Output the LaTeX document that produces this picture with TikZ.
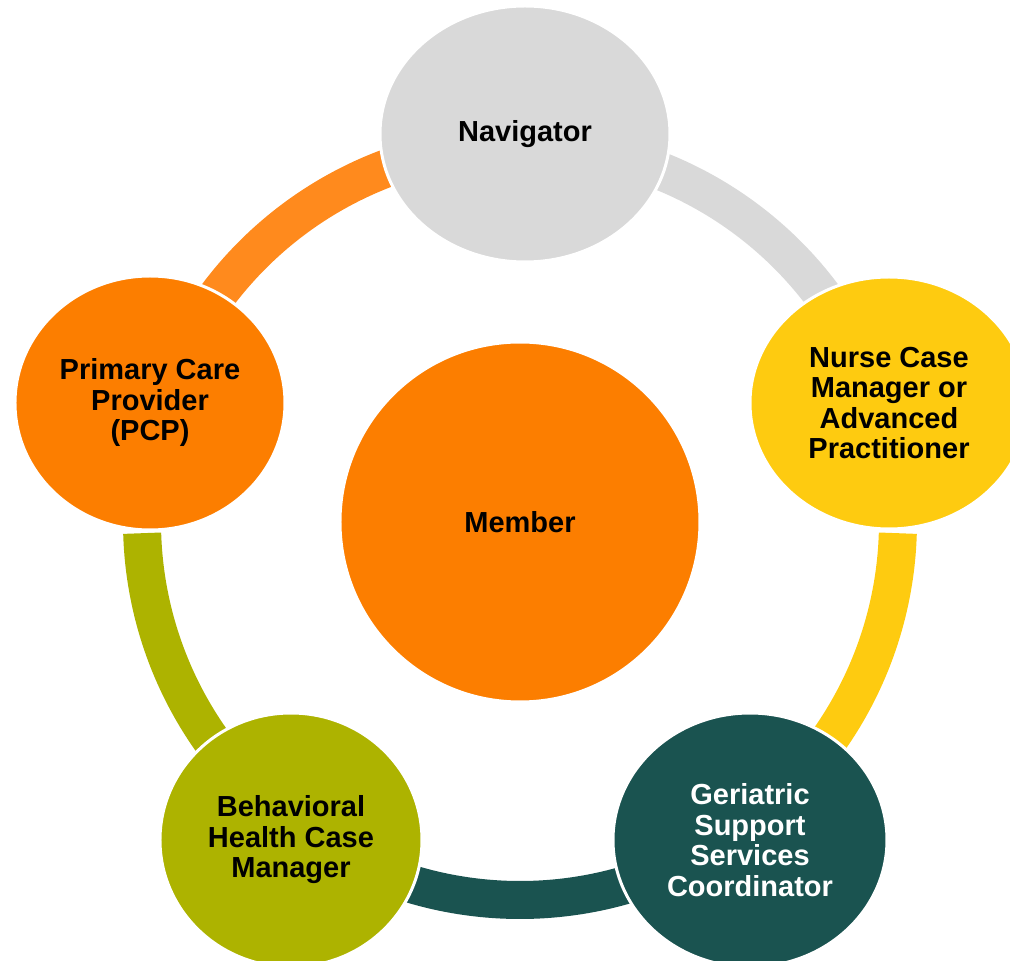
\documentclass[tikz,border=0pt]{standalone}
\usepackage{fontspec}
\setmainfont{Liberation Sans}
\usetikzlibrary{shapes.geometric}
\definecolor{MemberOrange}{RGB}{252,126,0}
\definecolor{ArcOrange}{RGB}{255,138,29}
\definecolor{NavGrey}{RGB}{217,217,217}
\definecolor{NurseYellow}{RGB}{254,203,16}
\definecolor{GeriTeal}{RGB}{26,83,80}
\definecolor{BehavOlive}{RGB}{173,179,0}
\tikzset{
  role/.style={ellipse,draw=white,line width=3pt,inner sep=0pt,align=center,
    font=\fontsize{29}{30.5}\selectfont\bfseries},
  ring arc/.style={line width=38pt},
}

\begin{document}
\begin{tikzpicture}[x=1pt,y=1pt]
\useasboundingbox (-520,-439) rectangle (490,522);
\coordinate (pcp-ring) at (162:378);
\coordinate (nav-ring) at (89:378);
\coordinate (nurse-ring) at (-1.7:378);
\coordinate (geri-ring) at (-54:378);
\coordinate (behav-ring) at (234:378);
\draw[ring arc,ArcOrange] (pcp-ring) arc[start angle=162,end angle=89,radius=378];
\draw[ring arc,NavGrey] (nav-ring) arc[start angle=89,end angle=18,radius=378];
\draw[ring arc,NurseYellow] (nurse-ring) arc[start angle=-1.7,end angle=-54,radius=378];
\draw[ring arc,GeriTeal] (geri-ring) arc[start angle=-54,end angle=-126,radius=378];
\draw[ring arc,BehavOlive] (behav-ring) arc[start angle=234,end angle=181.7,radius=378];
\node[role,fill=MemberOrange,minimum size=360pt] (member) at (0,0) {Member};
\node[role,fill=NavGrey,minimum width=290pt,minimum height=256pt] (nav) at (5,388) {Navigator};
\node[role,fill=NurseYellow,minimum width=278pt,minimum height=252pt] (nurse) at (369,119)
  {Nurse Case\\Manager or\\Advanced\\Practitioner};
\node[role,fill=GeriTeal,text=white,minimum width=274pt,minimum height=254pt] (geri) at (230,-318)
  {Geriatric\\Support\\Services\\Coordinator};
\node[role,fill=BehavOlive,minimum width=262pt,minimum height=254pt] (behav) at (-229,-318)
  {Behavioral\\Health Case\\Manager};
\node[role,fill=MemberOrange,minimum width=270pt,minimum height=254pt] (pcp) at (-370,119)
  {Primary Care\\Provider\\(PCP)};
\end{tikzpicture}
\end{document}
